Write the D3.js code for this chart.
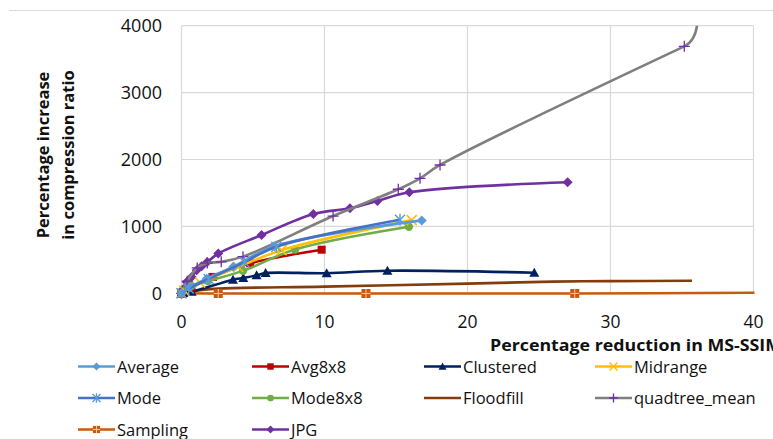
<!DOCTYPE html>
<html>
<head>
<meta charset="utf-8">
<script src="https://cdn.jsdelivr.net/npm/d3@7"></script>
<style>
  body { margin: 0; background: #fff; }
  svg { display: block; font-family: "Open Sans", sans-serif; }
</style>
</head>
<body>
<svg id="chart" width="773" height="439"></svg>
<script>
// series data: [percentage reduction in MS-SSIM, percentage increase in compression ratio]
const average   = [[0,0],[0.6,90],[1.76,219],[3.62,398],[6.5,705],[16.8,1090]]
const avg8x8    = [[0,0],[0.7,90],[2.2,245],[4.8,448],[9.8,652]]
const clustered = [[0,0],[0.13,3],[0.71,22],[3.6,204],[4.32,229],[5.25,268],[5.88,303],[10.15,300],[14.4,338],[24.67,308]]
const midrange  = [[0,0],[0.2,40],[1.3,160],[3.97,394],[7.0,645],[16.1,1094]]
const mode      = [[0,0],[0.5,70],[1.9,215],[4.4,465],[6.63,697],[15.28,1100]]
const mode8x8   = [[0,0],[0.69,110],[1.85,183],[4.3,335],[7.94,655],[15.9,995]]
const floodfill = [[0,15],[1,40],[2.6,70],[10,100],[20,145],[26,175],[30,182],[35.7,188]]
const quadtree  = [[0,0],[0.4,180],[1.1,380],[1.8,452],[2.78,470],[4.3,548],[10.6,1155],[15.16,1555],[16.68,1719],[18.08,1918],[35.16,3691],[36.1,4150]]
const sampling  = [[0,0],[2.57,-3],[12.9,-3],[27.5,-2],[41,9]]
const jpg       = [[0,0],[0.1,60],[0.36,169],[0.71,243],[1.06,343],[1.41,403],[1.8,468],[2.57,594],[5.6,871],[9.22,1185],[11.78,1270],[13.7,1380],[15.93,1510],[27,1661]]

const xTicks = [0, 10, 20, 30, 40]
const yTicks = [0, 1000, 2000, 3000, 4000]

const series = [
  {name: 'Average', data: average, color: '#5B9BD5', marker: 'diamond', mcolor: '#5B9BD5'},
  {name: 'Avg8x8', data: avg8x8, color: '#C00000', marker: 'square', mcolor: '#C00000'},
  {name: 'Clustered', data: clustered, color: '#002060', marker: 'triangle', mcolor: '#002060'},
  {name: 'Midrange', data: midrange, color: '#FFC000', marker: 'x', mcolor: '#FFC000'},
  {name: 'Mode', data: mode, color: '#4472C4', marker: 'asterisk', mcolor: '#5B9BD5'},
  {name: 'Mode8x8', data: mode8x8, color: '#70AD47', marker: 'circle', mcolor: '#70AD47'},
  {name: 'Floodfill', data: floodfill, color: '#843C0C', marker: null},
  {name: 'quadtree_mean', data: quadtree, color: '#7F7F7F', marker: 'plus', mcolor: '#7030A0'},
  {name: 'Sampling', data: sampling, color: '#C55A11', marker: 'squarePlus', mcolor: '#C55A11'},
  {name: 'JPG', data: jpg, color: '#7030A0', marker: 'diamond', mcolor: '#7030A0'}
]

const svg = d3.select('#chart')

const x = d3.scaleLinear().domain([0, 40]).range([181.5, 753.5])
const y = d3.scaleLinear().domain([0, 4000]).range([293.3, 25.7])

// top border line of the chart area
svg.append('line')
  .attr('x1', 9).attr('x2', 773).attr('y1', 10.5).attr('y2', 10.5)
  .attr('stroke', '#d9d9d9').attr('stroke-width', 1)

// gridlines
const grid = svg.append('g')
grid.selectAll('.gx').data(xTicks).join('line')
  .attr('x1', d => x(d)).attr('x2', d => x(d))
  .attr('y1', y(4000)).attr('y2', y(0))
  .attr('stroke', '#d9d9d9').attr('stroke-width', 1.2)
grid.selectAll('.gy').data(yTicks).join('line')
  .attr('x1', x(0)).attr('x2', x(40))
  .attr('y1', d => y(d)).attr('y2', d => y(d))
  .attr('stroke', '#d9d9d9').attr('stroke-width', 1.2)

// tick labels
svg.append('g').selectAll('text').data(yTicks).join('text')
  .attr('x', 162).attr('y', d => y(d) + 6.5)
  .attr('text-anchor', 'end')
  .attr('font-size', 18).attr('fill', '#111')
  .text(d => d)
svg.append('g').selectAll('text').data(xTicks).join('text')
  .attr('x', d => x(d)).attr('y', 328)
  .attr('text-anchor', 'middle')
  .attr('font-size', 17.5).attr('fill', '#111')
  .text(d => d)

// axis titles (the x title runs off the right edge, as in the reference)
svg.append('text')
  .attr('x', 490).attr('y', 350.5)
  .attr('font-size', 16).attr('font-weight', 'bold').attr('fill', '#111')
  .attr('textLength', 292).attr('lengthAdjust', 'spacingAndGlyphs')
  .text('Percentage reduction in MS-SSIM')

const yTitle = svg.append('text')
  .attr('transform', 'rotate(-90)')
  .attr('text-anchor', 'middle')
  .attr('font-size', 16.5).attr('font-weight', 'bold').attr('fill', '#111')
yTitle.append('tspan').attr('x', -155).attr('y', 49).text('Percentage increase')
yTitle.append('tspan').attr('x', -155).attr('y', 74).text('in compression ratio')

// clip to plot area
svg.append('clipPath').attr('id', 'plotClip')
  .append('rect')
  .attr('x', x(0) - 6).attr('y', y(4000))
  .attr('width', x(40) - x(0) + 7).attr('height', y(0) - y(4000) + 8)

const lineSmooth = d3.line()
  .x(d => x(d[0])).y(d => y(d[1]))
  .curve(d3.curveCatmullRom.alpha(0.5))

// a last point above the axis maximum is joined by a curve that keeps
// the direction of the previous segment and turns upward (Excel look)
const seriesPath = (data) => {
  const last = data[data.length - 1]
  if (last[1] <= y.domain()[1] || data.length < 3) return lineSmooth(data)
  const inner = data.slice(0, -1)
  const p1 = inner[inner.length - 2], p2 = inner[inner.length - 1]
  const x1 = x(p1[0]), y1 = y(p1[1]), x2 = x(p2[0]), y2 = y(p2[1])
  const x3 = x(last[0]), y3 = y(last[1])
  const cy = y2 + (x3 - x2) * (y2 - y1) / (x2 - x1)
  return lineSmooth(inner) + `Q${x3},${cy},${x3},${y3}`
}

const drawMarker = (g, type, color, cx, cy, s = 1) => {
  const m = g.append('g').attr('transform', `translate(${cx},${cy})`)
  if (type === 'diamond') {
    m.append('path').attr('d', `M0,${-5*s}L${5*s},0L0,${5*s}L${-5*s},0Z`).attr('fill', color)
  } else if (type === 'square') {
    m.append('rect').attr('x', -4*s).attr('y', -4*s).attr('width', 8*s).attr('height', 8*s).attr('fill', color)
  } else if (type === 'triangle') {
    m.append('path').attr('d', `M0,${-5*s}L${5*s},${4*s}L${-5*s},${4*s}Z`).attr('fill', color)
  } else if (type === 'circle') {
    m.append('circle').attr('r', 4.2*s).attr('fill', color)
  } else if (type === 'x') {
    m.append('path').attr('d', `M${-5*s},${-5*s}L${5*s},${5*s}M${5*s},${-5*s}L${-5*s},${5*s}`)
      .attr('stroke', color).attr('stroke-width', 1.5)
  } else if (type === 'asterisk') {
    m.append('path').attr('d', `M${-5*s},${-5*s}L${5*s},${5*s}M${5*s},${-5*s}L${-5*s},${5*s}M0,${-6*s}L0,${6*s}`)
      .attr('stroke', color).attr('stroke-width', 1.4)
  } else if (type === 'plus') {
    m.append('path').attr('d', `M${-5.5*s},0L${5.5*s},0M0,${-5.5*s}L0,${5.5*s}`)
      .attr('stroke', color).attr('stroke-width', 1.3)
  } else if (type === 'squarePlus') {
    m.append('rect').attr('x', -4.5*s).attr('y', -4.5*s).attr('width', 9*s).attr('height', 9*s).attr('fill', color)
    m.append('path').attr('d', `M${-4.5*s},0L${4.5*s},0M0,${-4.5*s}L0,${4.5*s}`)
      .attr('stroke', '#e8c8b0').attr('stroke-width', 1)
  }
}

const plot = svg.append('g').attr('clip-path', 'url(#plotClip)')

// draw back to front so the first series sits on top like in the reference
const drawOrder = [6, 8, 2, 9, 7, 1, 5, 3, 0, 4]
drawOrder.forEach(i => {
  const s = series[i]
  const g = plot.append('g')
  g.append('path')
    .attr('d', seriesPath(s.data))
    .attr('fill', 'none')
    .attr('stroke', s.color)
    .attr('stroke-width', 2.6)
    .attr('stroke-linejoin', 'round')
  if (s.marker) {
    s.data.forEach(d => {
      if (d[1] <= 4000 && d[0] <= 40) drawMarker(g, s.marker, s.mcolor, x(d[0]), y(d[1]))
    })
  }
})

// legend
const legendCols = [78, 252, 424, 595]
const legendRows = [366.5, 398, 429.5]
const legend = svg.append('g')
series.forEach((s, i) => {
  const lx = legendCols[i % 4]
  const ly = legendRows[Math.floor(i / 4)]
  const g = legend.append('g')
  g.append('line')
    .attr('x1', lx).attr('x2', lx + 37).attr('y1', ly).attr('y2', ly)
    .attr('stroke', s.color).attr('stroke-width', 2.6)
  if (s.marker) drawMarker(g, s.marker, s.mcolor, lx + 18.5, ly, 0.8)
  g.append('text')
    .attr('x', lx + 39).attr('y', ly + 6)
    .attr('font-size', 16.5).attr('fill', '#111')
    .text(s.name)
})
</script>
</body>
</html>
